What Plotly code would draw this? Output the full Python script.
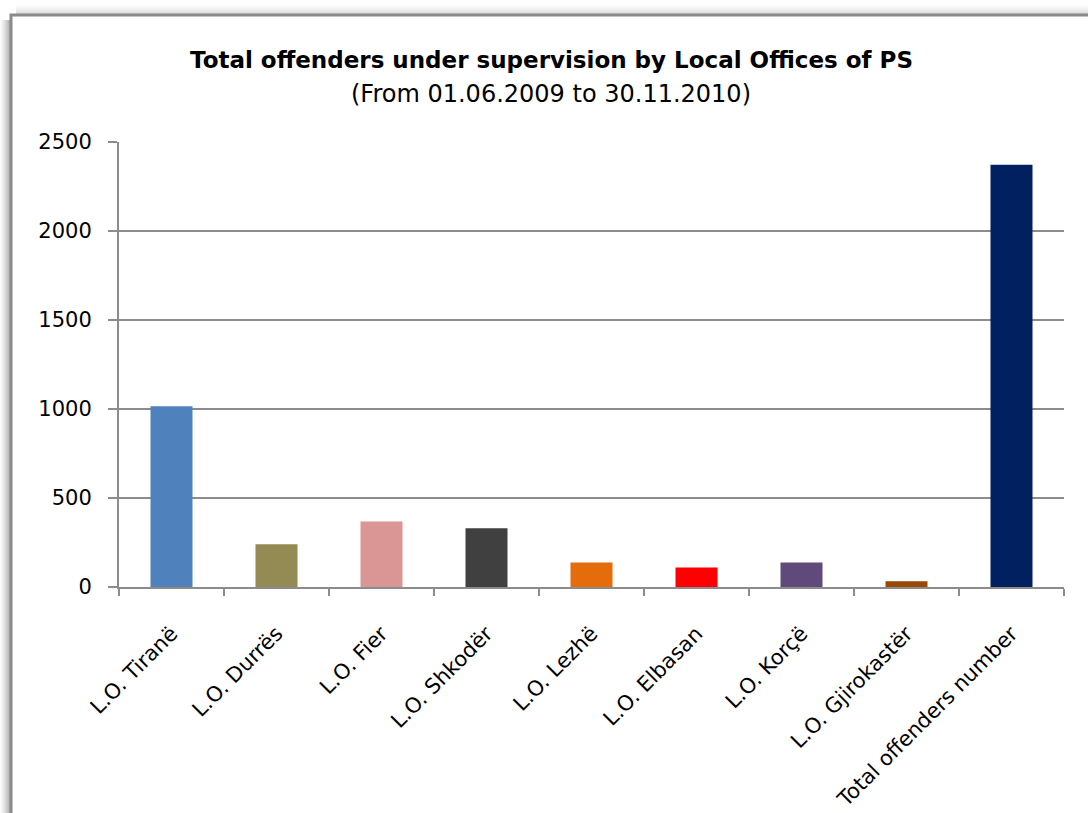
import plotly.graph_objects as go

# Offenders under supervision, 01.06.2009 - 30.11.2010
offices = [
    "L.O. Tiranë", "L.O. Durrës", "L.O. Fier", "L.O. Shkodër", "L.O. Lezhë",
    "L.O. Elbasan", "L.O. Korçë", "L.O. Gjirokastër", "Total offenders number",
]
offenders = [1015, 240, 368, 330, 138, 110, 138, 32, 2372]
bar_colors = [
    "#4f81bd", "#948a54", "#d99694", "#404040", "#e46c0a",
    "#ff0000", "#604a7b", "#984807", "#002060",
]
y_ticks = [0, 500, 1000, 1500, 2000, 2500]

W, H = 1088, 813
L, R, T, B = 119, 24, 142, 226
PW, PH = W - L - R, H - T - B


def px(x):
    return (x - L) / PW


def py(y):
    return (H - B - y) / PH


FONT = "DejaVu Sans"

fig = go.Figure(
    go.Bar(
        x=offices,
        y=offenders,
        marker=dict(color=bar_colors, line=dict(width=0)),
        width=0.4,
        hoverinfo="x+y",
    )
)

shapes = []
# soft drop shadow around the chart frame
for i in range(10):
    a = 0.30 * (1 - i / 10) ** 1.3
    shapes.append(dict(type="rect", xref="paper", yref="paper",
                       x0=px(10 - i - 1), x1=px(10 - i), y0=py(H + 20), y1=py(14 + 6),
                       fillcolor=f"rgba(0,0,0,{a:.3f})", line=dict(width=0), layer="below"))
    a2 = 0.14 * (1 - i / 10) ** 1.5
    shapes.append(dict(type="rect", xref="paper", yref="paper",
                       x0=px(10 + 6), x1=px(W + 20), y0=py(14 - i), y1=py(14 - i - 1),
                       fillcolor=f"rgba(0,0,0,{a2:.3f})", line=dict(width=0), layer="below"))
# chart frame
shapes.append(dict(type="rect", xref="paper", yref="paper",
                   x0=px(11), x1=px(W + 20), y0=py(H + 20), y1=py(15),
                   fillcolor="white", line=dict(color="#8a8a8a", width=3), layer="below"))

fig.update_layout(
    width=W, height=H,
    margin=dict(l=L, r=R, t=T, b=B, autoexpand=False),
    paper_bgcolor="white",
    plot_bgcolor="rgba(0,0,0,0)",
    showlegend=False,
    bargap=0.6,
    font=dict(family=FONT, color="#000000"),
    shapes=shapes,
    annotations=[
        dict(text="<b>Total offenders under supervision by Local Offices of PS</b>",
             xref="paper", yref="paper", x=px(551), y=py(60),
             xanchor="center", yanchor="middle", showarrow=False,
             font=dict(family=FONT, size=23, color="#000000")),
        dict(text="(From 01.06.2009 to 30.11.2010)",
             xref="paper", yref="paper", x=px(551), y=py(94),
             xanchor="center", yanchor="middle", showarrow=False,
             font=dict(family=FONT, size=24, color="#000000")),
    ],
)

fig.update_yaxes(
    range=[0, 2500],
    tickvals=y_ticks,
    ticktext=[str(v) for v in y_ticks],
    showgrid=True, gridcolor="#8c8c8c", gridwidth=2,
    showline=True, linecolor="#8c8c8c", linewidth=2,
    ticks="outside", ticklen=9, tickcolor="#8c8c8c", tickwidth=2,
    ticklabelstandoff=12,
    tickfont=dict(family=FONT, size=21, color="#000000"),
    zeroline=False,
    automargin=False,
    fixedrange=True,
)
fig.update_xaxes(
    tickangle=-45,
    showline=True, linecolor="#8c8c8c", linewidth=2,
    ticks="outside", ticklen=7, tickcolor="#8c8c8c", tickwidth=2,
    tickson="boundaries",
    ticklabelstandoff=24,
    tickfont=dict(family=FONT, size=21, color="#000000"),
    showgrid=False,
    automargin=False,
    fixedrange=True,
)

fig.write_html("out.html")
